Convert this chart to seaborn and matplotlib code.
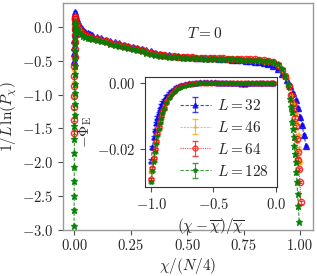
import matplotlib
matplotlib.use("Agg")
import matplotlib.pyplot as plt
import seaborn as sns

# ---- main panel: 1/L ln(P_chi) vs chi/(N/4) ----
sizes = [32, 46, 64, 128]

chi_mid = [0.006, 0.012, 0.02, 0.03, 0.04, 0.05, 0.06, 0.07, 0.08,
           0.10, 0.12, 0.14, 0.16, 0.18, 0.20, 0.22, 0.24, 0.26, 0.28, 0.30,
           0.32, 0.34, 0.36, 0.38, 0.40, 0.42, 0.44, 0.46, 0.48, 0.50,
           0.52, 0.54, 0.56, 0.58, 0.60, 0.62, 0.64, 0.66, 0.68, 0.70,
           0.72, 0.74, 0.76, 0.78, 0.80, 0.82, 0.84, 0.86, 0.88]

# near chi = 0
chi_left_32 = [0.0, 0.0005, 0.001, 0.0015, 0.002, 0.0025, 0.003, 0.0035, 0.004, 0.0045]
lnp_left_32 = [-0.5, -0.38, -0.29, -0.19, -0.09, 0.0, 0.08, 0.14, 0.19, 0.22]
chi_left_46 = [0.0, 0.0005, 0.001, 0.0015, 0.002, 0.0025, 0.003, 0.0035, 0.004, 0.0045]
lnp_left_46 = [-1.03, -0.82, -0.63, -0.47, -0.33, -0.2, -0.09, 0.0, 0.08, 0.17]
chi_left_64 = [0.0, 0.0003, 0.0006, 0.0009, 0.0012, 0.0015, 0.0018, 0.0021,
               0.0024, 0.0027, 0.003, 0.0033, 0.0036, 0.0039, 0.0042]
lnp_left_64 = [-1.56, -1.37, -1.19, -1.02, -0.87, -0.72, -0.58, -0.45,
               -0.33, -0.22, -0.12, -0.03, 0.05, 0.11, 0.15]
chi_left_128 = [0.0, 0.0002, 0.0005, 0.0007, 0.001, 0.0012, 0.0015, 0.0017,
                0.002, 0.0022, 0.0024, 0.0027, 0.0029, 0.0032, 0.0034, 0.0037,
                0.0039, 0.0042, 0.0044, 0.0046, 0.0049, 0.0051]
lnp_left_128 = [-2.94, -2.71, -2.5, -2.28, -2.07, -1.87, -1.66, -1.47,
                -1.3, -1.14, -0.98, -0.84, -0.7, -0.58, -0.46, -0.35,
                -0.25, -0.16, -0.08, -0.01, 0.04, 0.07]

# plateau
lnp_mid_32 = [0.19, 0.11, 0.04, -0.01, -0.05, -0.075, -0.095, -0.11, -0.125,
              -0.15, -0.17, -0.19, -0.21, -0.23, -0.245, -0.26, -0.28, -0.295, -0.31, -0.325,
              -0.345, -0.36, -0.38, -0.395, -0.41, -0.42, -0.43, -0.435, -0.44, -0.45,
              -0.45, -0.455, -0.46, -0.46, -0.465, -0.465, -0.47, -0.475, -0.48, -0.485,
              -0.49, -0.495, -0.50, -0.505, -0.515, -0.525, -0.54, -0.555, -0.575]
lnp_mid_46 = [0.14, 0.07, 0.0, -0.04, -0.075, -0.10, -0.115, -0.13, -0.145,
              -0.165, -0.185, -0.20, -0.22, -0.24, -0.255, -0.27, -0.29, -0.305, -0.32, -0.335,
              -0.355, -0.37, -0.385, -0.40, -0.415, -0.425, -0.43, -0.44, -0.445, -0.45,
              -0.45, -0.455, -0.46, -0.46, -0.46, -0.465, -0.47, -0.47, -0.475, -0.48,
              -0.48, -0.485, -0.49, -0.495, -0.50, -0.505, -0.515, -0.525, -0.54]
lnp_mid_64 = [0.11, 0.03, -0.03, -0.07, -0.10, -0.12, -0.135, -0.15, -0.16,
              -0.18, -0.20, -0.215, -0.235, -0.255, -0.27, -0.285, -0.30, -0.315, -0.33, -0.345,
              -0.365, -0.38, -0.395, -0.41, -0.42, -0.43, -0.435, -0.44, -0.445, -0.45,
              -0.45, -0.455, -0.455, -0.46, -0.46, -0.46, -0.465, -0.465, -0.47, -0.47,
              -0.47, -0.475, -0.475, -0.48, -0.48, -0.485, -0.49, -0.50, -0.515]
lnp_mid_128 = [0.04, -0.03, -0.08, -0.11, -0.13, -0.145, -0.16, -0.17, -0.18,
               -0.20, -0.215, -0.23, -0.25, -0.27, -0.285, -0.30, -0.315, -0.33, -0.345, -0.36,
               -0.38, -0.395, -0.41, -0.425, -0.435, -0.44, -0.445, -0.45, -0.455, -0.46,
               -0.46, -0.465, -0.465, -0.47, -0.47, -0.47, -0.475, -0.475, -0.48, -0.48,
               -0.48, -0.485, -0.485, -0.49, -0.49, -0.495, -0.50, -0.505, -0.515]

# drop near chi = N/4
chi_right_32 = [0.90, 0.92, 0.94, 0.955, 0.97, 0.98, 0.99, 1.0, 1.008, 1.017, 1.027]
lnp_right_32 = [-0.62, -0.69, -0.78, -0.87, -0.98, -1.08, -1.2, -1.33, -1.45, -1.6, -1.76]
chi_right_46 = [0.90, 0.92, 0.94, 0.955, 0.966, 0.975, 0.982, 0.988, 0.993, 0.997, 1.001]
lnp_right_46 = [-0.58, -0.65, -0.76, -0.88, -1.0, -1.13, -1.27, -1.43, -1.60, -1.80, -2.0]
chi_right_64 = [0.90, 0.92, 0.935, 0.95, 0.96, 0.968, 0.973, 0.977, 0.981,
                0.985, 0.989, 0.992, 0.995, 0.999, 1.004]
lnp_right_64 = [-0.56, -0.63, -0.73, -0.87, -1.0, -1.12, -1.22, -1.34, -1.47,
                -1.66, -1.85, -1.96, -2.10, -2.29, -2.59]
chi_right_128 = [0.90, 0.92, 0.935, 0.945, 0.956, 0.959, 0.962, 0.965, 0.968,
                 0.971, 0.974, 0.977, 0.980, 0.983, 0.986, 0.989, 0.992, 0.996]
lnp_right_128 = [-0.55, -0.62, -0.72, -0.85, -1.07, -1.18, -1.26, -1.40, -1.51,
                 -1.63, -1.76, -1.88, -2.00, -2.15, -2.29, -2.47, -2.65, -2.88]

err_main = [0.02, 0.02, 0.02, 0.02]

# ---- inset: -Phi_E vs (chi - chibar)/chibar ----
dev = [-1.0, -0.99, -0.98, -0.97, -0.96, -0.95, -0.94, -0.93, -0.92, -0.91, -0.90,
       -0.88, -0.86, -0.84, -0.82, -0.80, -0.78, -0.76,
       -0.73, -0.70, -0.67, -0.64, -0.61, -0.58, -0.55, -0.52, -0.49, -0.46,
       -0.43, -0.40, -0.37, -0.34, -0.31, -0.28, -0.25, -0.22, -0.19, -0.16,
       -0.13, -0.10, -0.07, -0.04, -0.02]
phi_32 = [-0.0235, -0.0195, -0.0165, -0.0142, -0.0122, -0.0105, -0.0091, -0.0079, -0.0069, -0.0060, -0.0053,
          -0.0041, -0.0031, -0.0024, -0.0018, -0.0013, -0.0009, -0.0006,
          -0.0003, -0.0001, 0.0, 0.0001, 0.0002, 0.0002, 0.0002, 0.0002, 0.0002, 0.0001,
          0.0001, 0.0001, 0.0, 0.0, -0.0001, -0.0002, -0.0004, -0.0001, 0.0, 0.0,
          0.0001, 0.0, 0.0, 0.0, 0.0]
phi_46 = [-0.0270, -0.0236, -0.0206, -0.0180, -0.0157, -0.0137, -0.0119, -0.0104, -0.0090, -0.0078, -0.0068,
          -0.0052, -0.0039, -0.0029, -0.0022, -0.0016, -0.0012, -0.0008,
          -0.0005, -0.0003, -0.0001, 0.0, 0.0, 0.0, 0.0, 0.0, 0.0, 0.0,
          0.0, 0.0, 0.0, 0.0, 0.0, 0.0, 0.0, 0.0, 0.0, 0.0,
          0.0, 0.0, 0.0, 0.0, 0.0]
phi_64 = [-0.0290, -0.0258, -0.0228, -0.0200, -0.0175, -0.0152, -0.0132, -0.0115, -0.0100, -0.0086, -0.0075,
          -0.0057, -0.0043, -0.0032, -0.0024, -0.0018, -0.0013, -0.0010,
          -0.0006, -0.0004, -0.0002, -0.0001, 0.0, 0.0, 0.0, 0.0, 0.0, 0.0,
          0.0, 0.0, 0.0, 0.0, 0.0, 0.0, 0.0, 0.0, 0.0, 0.0,
          0.0, 0.0, 0.0, 0.0, 0.0]
phi_128 = [-0.0300, -0.0268, -0.0238, -0.0210, -0.0184, -0.0160, -0.0140, -0.0122, -0.0106, -0.0092, -0.0080,
           -0.0061, -0.0046, -0.0035, -0.0027, -0.0020, -0.0015, -0.0011,
           -0.0008, -0.0005, -0.0003, -0.0002, -0.0001, -0.0001, 0.0, 0.0, 0.0, 0.0,
           0.0, 0.0, 0.0, 0.0, 0.0, 0.0, 0.0, 0.0, 0.0, 0.0,
           0.0, 0.0, 0.0, 0.0, 0.0]
err_inset = [0.0004, 0.0003, 0.0003, 0.0002]

colors = ['blue', 'orange', 'red', 'green']
markers = ['^', '+', 'o', '*']
dashes = [(0, (3, 1.5)), (0, (2, 1)), (0, (1, 1)), (0, (3, 1.5))]

sns.set_style('ticks')
plt.rcParams['font.family'] = 'serif'
plt.rcParams['font.serif'] = ['cmr10']
plt.rcParams['mathtext.fontset'] = 'cm'
plt.rcParams['axes.formatter.use_mathtext'] = True
plt.rcParams['font.size'] = 10.5

fig = plt.figure(figsize=(3.17, 2.76), dpi=100)
ax = fig.add_axes([63 / 317, 46 / 276, 250 / 317, 227 / 276])

chi_all = {
    32: chi_left_32 + chi_mid + chi_right_32,
    46: chi_left_46 + chi_mid + chi_right_46,
    64: chi_left_64 + chi_mid + chi_right_64,
    128: chi_left_128 + chi_mid + chi_right_128,
}
lnp_all = {
    32: lnp_left_32 + lnp_mid_32 + lnp_right_32,
    46: lnp_left_46 + lnp_mid_46 + lnp_right_46,
    64: lnp_left_64 + lnp_mid_64 + lnp_right_64,
    128: lnp_left_128 + lnp_mid_128 + lnp_right_128,
}

for i, L in enumerate(sizes):
    mfc = 'none' if markers[i] == 'o' else colors[i]
    ax.errorbar(chi_all[L], lnp_all[L], yerr=err_main[i], color=colors[i],
                marker=markers[i], markersize=4.5, mfc=mfc, linestyle=dashes[i],
                linewidth=0.8, elinewidth=0.6, capsize=1.5, alpha=0.8)

ax.set_xlim(-0.049, 1.057)
ax.set_ylim(-3.0, 0.353)
ax.set_xticks([0.0, 0.25, 0.5, 0.75, 1.0])
ax.set_xticklabels(['0.00', '0.25', '0.50', '0.75', '1.00'])
ax.set_yticks([-3.0, -2.5, -2.0, -1.5, -1.0, -0.5, 0.0])
ax.set_xlabel(r'$\chi/(N/4)$', fontsize=11, labelpad=2)
ax.set_ylabel(r'$1/L\,\ln(P_\chi)$', fontsize=11, labelpad=2)
ax.tick_params(labelsize=10.5, length=3.5, width=0.8, color='0.3')
for s in ax.spines.values():
    s.set_color('0.6')
    s.set_linewidth(1.0)
ax.text(0.568, 0.865, r'$T=0$', transform=ax.transAxes, fontsize=11,
        ha='center', va='center')

# inset
axin = fig.add_axes([145 / 317, 89 / 276, 132 / 317, 110 / 276])
for i, L in enumerate(sizes):
    phi = [phi_32, phi_46, phi_64, phi_128][i]
    mfc = 'none' if markers[i] == 'o' else colors[i]
    axin.errorbar(dev, phi, yerr=err_inset[i], color=colors[i],
                  marker=markers[i], markersize=3.5, mfc=mfc, linestyle=dashes[i],
                  linewidth=0.8, elinewidth=0.8, capsize=2.5, alpha=0.75,
                  label=rf'$L={L}$')

axin.set_xlim(-1.05, 0.01)
axin.set_ylim(-0.0315, 0.0018)
axin.set_xticks([-1.0, -0.5, 0.0])
axin.set_yticks([-0.02, 0.0])
axin.set_yticklabels([r'$-0.02$', r'$0.00$'])
axin.set_xlabel(r'$(\chi-\overline{\chi})/\overline{\chi}$', fontsize=11, labelpad=3)
axin.set_ylabel(r'$-\Phi_{\rm E}$', fontsize=11, labelpad=2)
axin.tick_params(labelsize=10.5, length=3.5, width=0.8, color='0.3')
for s in axin.spines.values():
    s.set_color('0.2')
    s.set_linewidth(0.8)
axin.legend(loc='lower right', frameon=False, fontsize=11, labelspacing=0.45,
            handlelength=2.0, handletextpad=0.4, borderaxespad=0.15)

fig.savefig('out.png', dpi=100)
